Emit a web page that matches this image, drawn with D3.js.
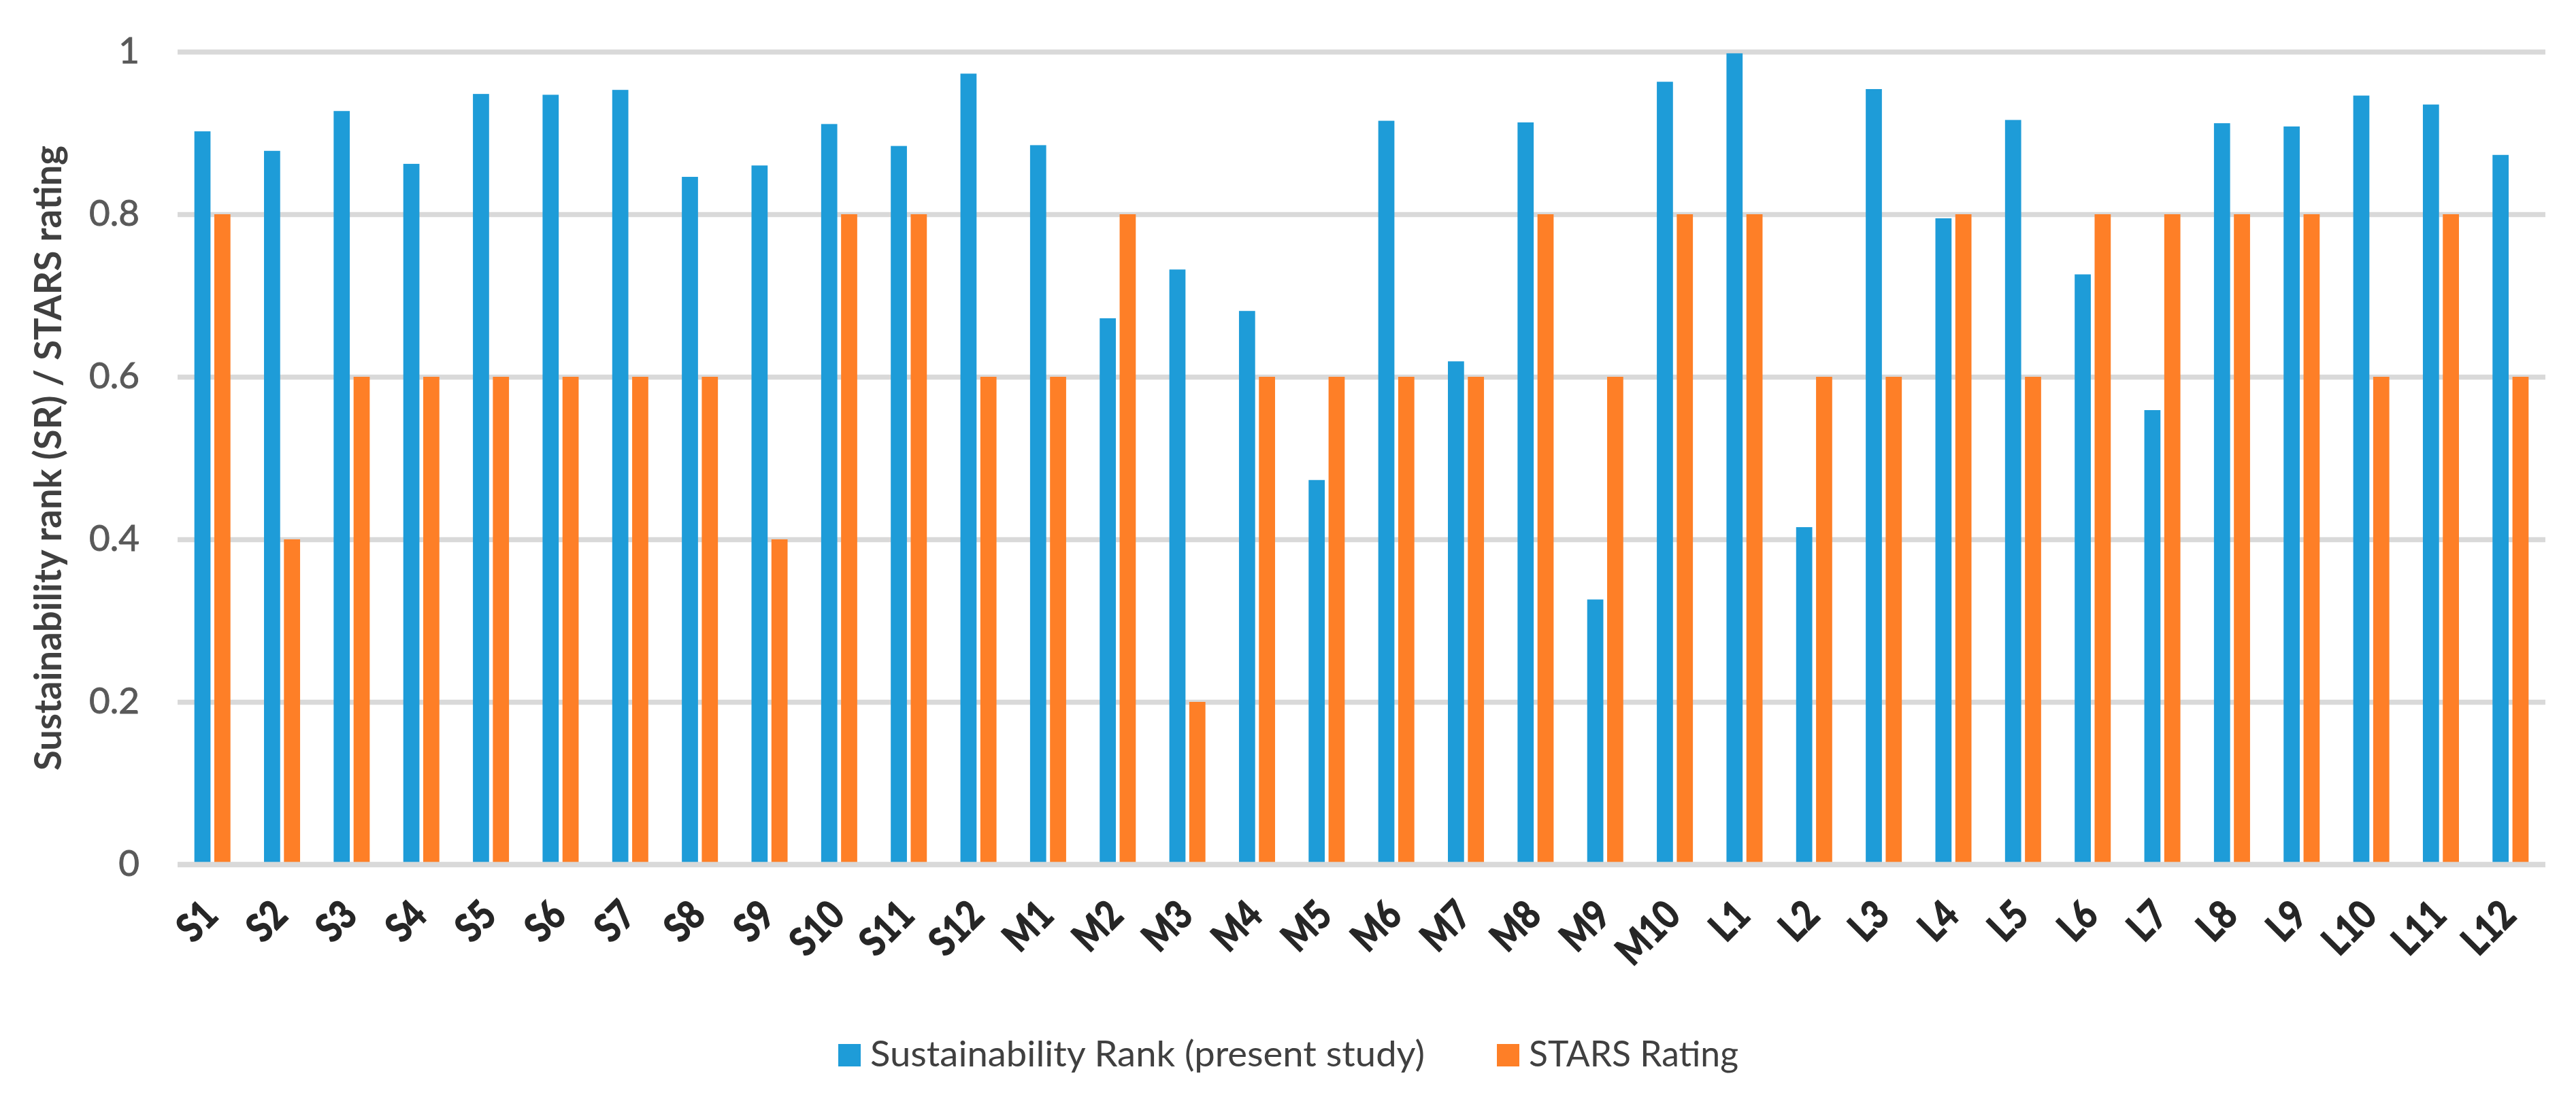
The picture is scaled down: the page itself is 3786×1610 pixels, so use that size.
<!DOCTYPE html>
<html>
<head>
<meta charset="utf-8">
<script src="https://cdn.jsdelivr.net/npm/d3@7"></script>
<style>
  body { margin: 0; background: #fff; }
  text { font-family: Lato, "Open Sans", sans-serif; }
</style>
</head>
<body>
<div id="chart"></div>
<script>
// data
var categories = ["S1","S2","S3","S4","S5","S6","S7","S8","S9","S10","S11","S12",
  "M1","M2","M3","M4","M5","M6","M7","M8","M9","M10",
  "L1","L2","L3","L4","L5","L6","L7","L8","L9","L10","L11","L12"];
var srValues = [0.902,0.878,0.927,0.862,0.948,0.947,0.953,0.846,0.860,0.911,0.884,0.973,
  0.885,0.672,0.732,0.681,0.473,0.915,0.619,0.913,0.326,0.963,
  0.998,0.415,0.954,0.795,0.916,0.726,0.559,0.912,0.908,0.946,0.935,0.873];
var starsValues = [0.8,0.4,0.6,0.6,0.6,0.6,0.6,0.6,0.4,0.8,0.8,0.6,
  0.6,0.8,0.2,0.6,0.6,0.6,0.6,0.8,0.6,0.8,
  0.8,0.6,0.6,0.8,0.6,0.8,0.8,0.8,0.8,0.6,0.8,0.6];
var seriesNames = ["Sustainability Rank (present study)", "STARS Rating"];
var seriesColors = ["#1e9cd8", "#fe7f27"];
var yTicks = [0, 0.2, 0.4, 0.6, 0.8, 1];

var W = 3786, H = 1610;
var margin = {top: 76, right: 45, bottom: 339, left: 261},
    width = W - margin.left - margin.right,
    height = H - margin.top - margin.bottom;

var svg = d3.select("#chart").append("svg")
    .attr("width", W)
    .attr("height", H)
    .style("background", "#fff");

var g = svg.append("g")
    .attr("transform", "translate(" + margin.left + "," + margin.top + ")");

var rows = categories.map(function(c, i) {
  return {cat: c, vals: [srValues[i], starsValues[i]]};
});

// scales
var x0 = d3.scaleBand()
    .domain(categories)
    .range([0, width])
    .paddingInner(0.482)
    .paddingOuter(0.241);

var x1 = d3.scaleBand()
    .domain([0, 1])
    .range([0, x0.bandwidth()])
    .paddingInner(0.19);

var y = d3.scaleLinear()
    .domain([0, 1])
    .range([height, 0]);

// gridlines + tick labels
var yAxis = g.append("g")
    .call(d3.axisLeft(y).tickValues(yTicks).tickSize(-width).tickPadding(56)
      .tickFormat(function(d) { return d3.format("~g")(d); }));
yAxis.select(".domain").remove();
yAxis.selectAll("line")
    .attr("stroke", "#d9d9d9")
    .attr("stroke-width", 7.5);
yAxis.selectAll("text")
    .attr("fill", "#595959")
    .attr("stroke", "#595959")
    .attr("stroke-width", 0.9)
    .style("font-family", "Lato, sans-serif")
    .style("font-size", "53px");

// bars
var groups = g.selectAll(".grp")
    .data(rows)
    .enter().append("g")
    .attr("transform", function(d) { return "translate(" + x0(d.cat) + ",0)"; });

groups.selectAll("rect")
    .data(function(d) { return d.vals.map(function(v, k) { return {k: k, v: v}; }); })
    .enter().append("rect")
    .attr("x", function(d) { return x1(d.k); })
    .attr("y", function(d) { return y(d.v); })
    .attr("width", x1.bandwidth())
    .attr("height", function(d) { return height - y(d.v); })
    .attr("fill", function(d) { return seriesColors[d.k]; });

// category axis line on top of bars
g.append("line")
    .attr("x1", 0).attr("x2", width)
    .attr("y1", y(0)).attr("y2", y(0))
    .attr("stroke", "#d9d9d9")
    .attr("stroke-width", 7.5);

// squeeze Lato a bit so it runs like the original narrow font
function squeeze(sel, f) {
  sel.each(function() {
    var len = this.getComputedTextLength();
    d3.select(this).attr("textLength", len * f).attr("lengthAdjust", "spacingAndGlyphs");
  });
}

// x labels, rotated
var xl = g.selectAll(".xl")
    .data(categories)
    .enter().append("text")
    .attr("text-anchor", "end")
    .attr("transform", function(d) {
      return "translate(" + (x0(d) + x0.bandwidth() / 2 + 11) + "," + (height + 78) + ") rotate(-45)";
    })
    .attr("fill", "#262626")
    .attr("stroke", "#262626")
    .attr("stroke-width", 1.6)
    .style("font-size", "58px")
    .style("font-weight", "bold")
    .text(function(d) { return d; });
squeeze(xl, 0.85);

// y title
var yt = svg.append("text")
    .attr("text-anchor", "middle")
    .attr("transform", "translate(90," + (margin.top + height / 2) + ") rotate(-90)")
    .attr("fill", "#404040")
    .style("font-size", "56px")
    .style("font-weight", "bold")
    .text("Sustainability rank (SR) / STARS rating");
yt.attr("textLength", 919).attr("lengthAdjust", "spacingAndGlyphs");

// legend
var legX = [1232, 2200], legW = [815, 308];
var leg = svg.selectAll(".leg")
    .data(seriesNames)
    .enter().append("g")
    .attr("transform", function(d, i) { return "translate(" + legX[i] + ",1535)"; });
leg.append("rect")
    .attr("width", 33).attr("height", 33)
    .attr("fill", function(d, i) { return seriesColors[i]; });
leg.append("text")
    .attr("x", 47).attr("y", 33)
    .attr("fill", "#404040")
    .style("font-size", "53px")
    .attr("textLength", function(d, i) { return legW[i]; })
    .attr("lengthAdjust", "spacingAndGlyphs")
    .text(function(d) { return d; });
</script>
</body>
</html>
